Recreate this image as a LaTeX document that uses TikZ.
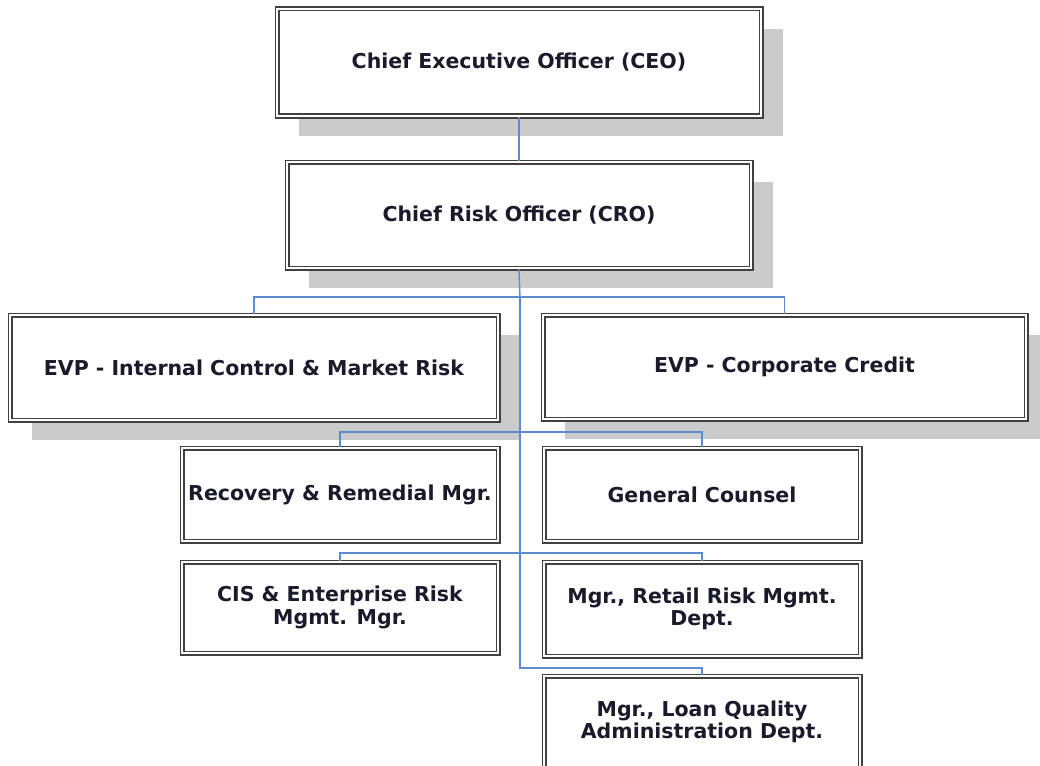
\documentclass[tikz,border=0pt]{standalone}
\usepackage{fontspec}
\setmainfont{DejaVu Sans}
\usetikzlibrary{shadows}
\definecolor{conncol}{HTML}{5B8BD0}
\definecolor{shadcol}{HTML}{CBCBCB}
\definecolor{txtcol}{HTML}{1A1A2A}
\begin{document}
\begin{tikzpicture}[x=1pt,y=-1pt,
  box/.style={draw=black!75, line width=1.7pt, double=white, double distance=1.6pt,
    fill=white, inner sep=0pt, align=center, text=txtcol,
    font=\fontsize{20.5}{22.5}\selectfont\bfseries},
  shbox/.style={box, general shadow={fill=shadcol, draw=none, shadow xshift=22pt, shadow yshift=-20pt}},
  conn/.style={draw=conncol, line width=1.4pt}]
\useasboundingbox (0,0) rectangle (1040,765);
\node[shbox, minimum width=484pt, minimum height=107pt] (ceo) at (519,62.5) {Chief Executive Officer (CEO)};
\node[shbox, minimum width=464pt, minimum height=106pt] (cro) at (519,215) {Chief Risk Officer (CRO)};
\node[shbox, minimum width=488pt, minimum height=105pt] (evpL) at (254,367.5) {EVP - Internal Control \& Market Risk};
\node[shbox, minimum width=483pt, minimum height=104pt] (evpR) at (784.5,367) {EVP - Corporate Credit};
\node[box, minimum width=316pt, minimum height=93pt] (rec) at (340,494.5) {Recovery \& Remedial Mgr.};
\node[box, minimum width=316pt, minimum height=93pt] (gc) at (702,494.5) {General Counsel};
\node[box, minimum width=316pt, minimum height=91pt] (cis) at (340,607.5) {CIS \& Enterprise Risk\\Mgmt. Mgr.};
\node[box, minimum width=316pt, minimum height=94pt] (ret) at (702,609) {Mgr., Retail Risk Mgmt.\\Dept.};
\node[box, minimum width=316pt, minimum height=92pt] (loan) at (702,722) {Mgr., Loan Quality\\Administration Dept.};
\coordinate (b1) at (520,297);
\coordinate (b2) at (520,432);
\coordinate (b3) at (520,553);
\coordinate (b4) at (520,668);
\draw[conn] (ceo.south) -- (cro.north);
\draw[conn] (cro.south) -- (b1);
\draw[conn] (evpL.north) |- (b1) -| (evpR.north);
\draw[conn] (b1) -- (b4) -| (loan.north);
\draw[conn] (rec.north) |- (b2) -| (gc.north);
\draw[conn] (cis.north) |- (b3) -| (ret.north);
\end{tikzpicture}
\end{document}
